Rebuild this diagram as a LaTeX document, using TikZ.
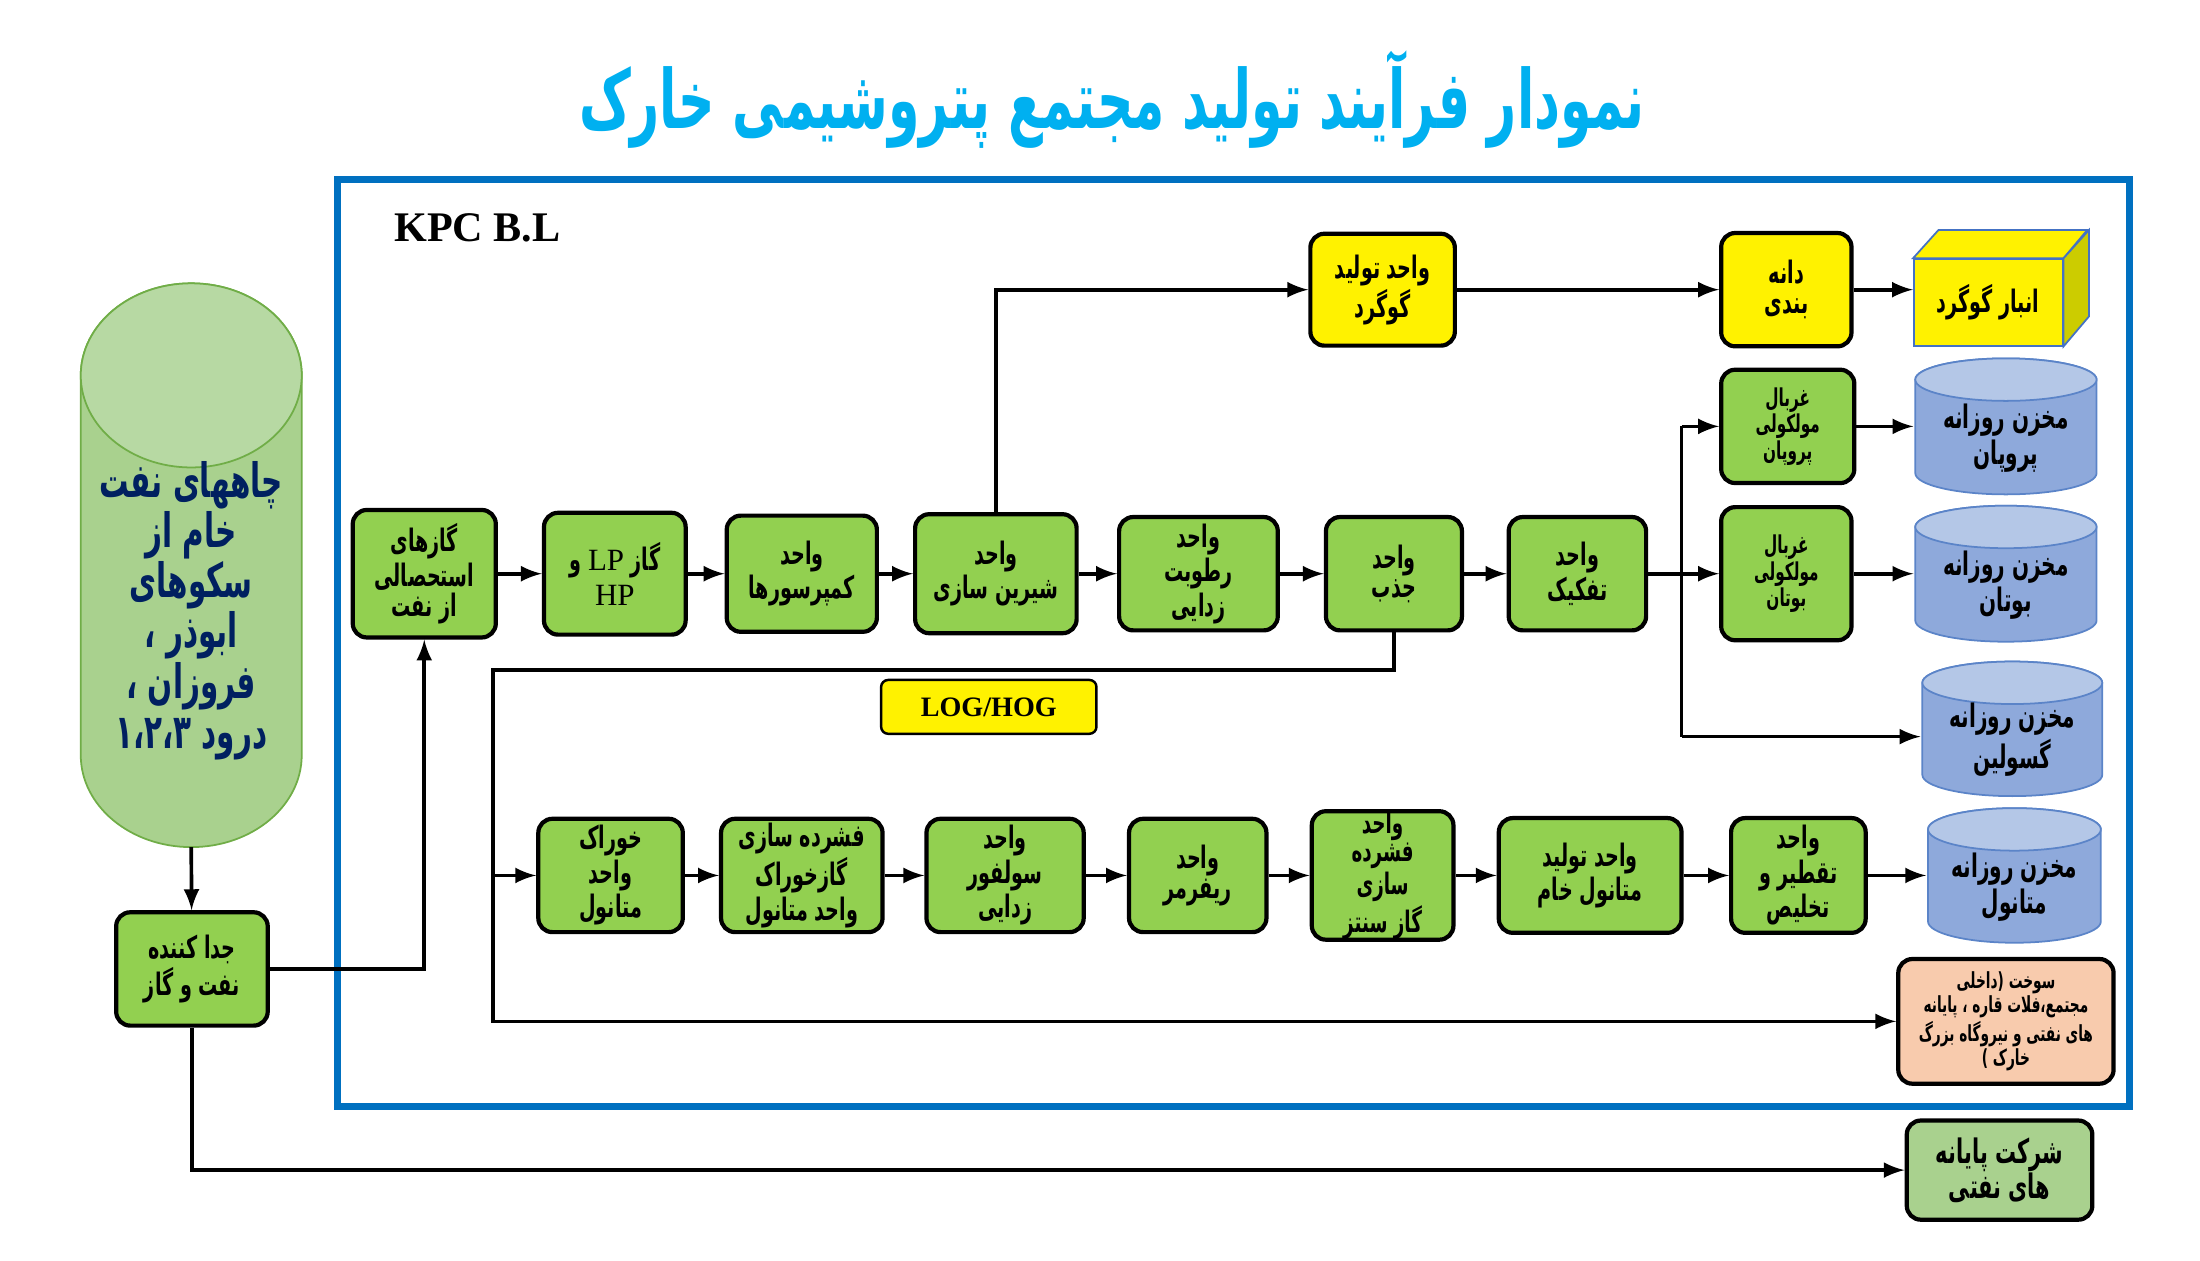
\documentclass[tikz,border=0pt]{standalone}
\usepackage{fontspec}
\setmainfont{Liberation Serif}
\newfontfamily\latinfont{Liberation Serif}
\newfontfamily\arabicfont[Script=Arabic,FakeStretch=0.62]{DejaVu Sans}
\TeXXeTstate=1
\usetikzlibrary{arrows}

\newcommand{\px}{0.4031pt}
\newcommand{\fa}[1]{\beginR#1\endR}
\newcommand{\boxfont}{\arabicfont\bfseries\fontsize{8.8}{8.4}\selectfont}

\definecolor{boxgreen}{HTML}{92D050}
\definecolor{palegreen}{HTML}{A9D18E}
\definecolor{welltop}{HTML}{B7D9A3}
\definecolor{welledge}{HTML}{70AD47}
\definecolor{wellink}{HTML}{002060}
\definecolor{tankbody}{HTML}{8EA9DB}
\definecolor{tanktop}{HTML}{B4C7E7}
\definecolor{tankedge}{HTML}{5B84C8}
\definecolor{peach}{HTML}{F8CBAD}
\definecolor{frameblue}{HTML}{0070C0}
\definecolor{titleblue}{HTML}{00B0F0}
\definecolor{cubeside}{HTML}{CCCC00}
\definecolor{cubeedge}{HTML}{4472C4}

\begin{document}
\begin{tikzpicture}[x=\px, y=-\px, line width=1.05pt, >=latex,
  sz/.style 2 args={minimum width=#1*\px, minimum height=#2*\px},
  box/.style={draw, line width=1.2pt, rounded corners=4pt, fill=boxgreen, inner sep=0pt, align=center, font=\boxfont},
  ybox/.style={box, fill=yellow},
  sieve/.style={box, font=\arabicfont\bfseries\fontsize{7}{7.5}\selectfont},
  tank/.style={inner sep=0pt, align=center, font=\arabicfont\bfseries\fontsize{9.2}{9}\selectfont}]

\useasboundingbox (0,0) rectangle (1553,890);

% title and plant limit
\node[font=\arabicfont\bfseries\fontsize{23.2}{26}\selectfont, text=titleblue] (title) at (785,70)
  {\fa{نمودار فرآیند تولید مجتمع پتروشیمی خارک}};
\draw[frameblue, line width=2pt] (238,127) rectangle (1503,781);
\node[font=\bfseries\fontsize{12}{14}\selectfont] (kpc) at (337,161) {KPC B.L};

% oil wells
\draw[welledge, line width=0.5pt, fill=palegreen] (57,265) -- (57,533)
  arc[start angle=180, end angle=0, x radius=78, y radius=65] -- (213,265)
  arc[start angle=0, end angle=-180, x radius=78, y radius=65] -- cycle;
\draw[welledge, line width=0.5pt, fill=welltop] (135,265) ellipse[x radius=78, y radius=65];
\node[text=wellink, align=center, font=\arabicfont\bfseries\fontsize{13.5}{14.3}\selectfont] (well) at (135,431)
  {\fa{چاههای نفت}\\\fa{خام از}\\\fa{سکوهای}\\\fa{ابوذر ،}\\\fa{فروزان ،}\\\fa{درود ۱،۲،۳}};
\coordinate (wellbot) at (135,598);

% daily tanks
\foreach \cx/\cy/\w/\h in {1416/301/128/96, 1416/405/128/96, 1420.5/514.5/127/95, 1422/618/122/95}
{
  \draw[tankedge, line width=0.5pt, fill=tankbody] (\cx-\w/2,\cy-\h/2+15) -- (\cx-\w/2,\cy+\h/2-15)
    arc[start angle=180, end angle=0, x radius=\w/2, y radius=15] -- (\cx+\w/2,\cy-\h/2+15)
    arc[start angle=0, end angle=-180, x radius=\w/2, y radius=15] -- cycle;
  \draw[tankedge, line width=0.5pt, fill=tanktop] (\cx,\cy-\h/2+15) ellipse[x radius=\w/2, y radius=15];
}
\node[tank, sz={128}{96}] (tankP) at (1416,309) {\fa{مخزن روزانه}\\\fa{پروپان}};
\node[tank, sz={128}{96}] (tankB) at (1416,413) {\fa{مخزن روزانه}\\\fa{بوتان}};
\node[tank, sz={127}{95}] (tankG) at (1420.5,522) {\fa{مخزن روزانه}\\\fa{گسولین}};
\node[tank, sz={122}{95}] (tankM) at (1422,626) {\fa{مخزن روزانه}\\\fa{متانول}};

% separator and export
\node[box, sz={107}{80}] (sep) at (135.5,684) {\fa{جدا کننده}\\\fa{نفت و گاز}};
\node[box, fill=palegreen, sz={131}{70}, font=\arabicfont\bfseries\fontsize{9.6}{9.8}\selectfont] (term)
  at (1411.5,826) {\fa{شرکت پایانه}\\\fa{های نفتی}};

% gas train
\node[box, sz={101}{90}] (gas) at (299.5,405) {\fa{گازهای}\\\fa{استحصالی}\\\fa{از نفت}};
\node[box, sz={100}{86}, font=\arabicfont\bfseries\fontsize{8.8}{10}\selectfont] (lphp) at (434,405)
  {\fa{گاز {\latinfont\mdseries LP} و}\\{\latinfont\mdseries HP}};
\node[box, sz={106}{82}] (comp) at (566,405) {\fa{واحد}\\\fa{کمپرسورها}};
\node[box, sz={114}{84}] (sweet) at (703,405) {\fa{واحد}\\\fa{شیرین سازی}};
\node[box, sz={112}{80}] (dehyd) at (846,405) {\fa{واحد}\\\fa{رطوبت}\\\fa{زدایی}};
\node[box, sz={96}{80}] (absorb) at (984,405) {\fa{واحد}\\\fa{جذب}};
\node[box, sz={97}{80}] (fract) at (1113.5,405) {\fa{واحد}\\\fa{تفکیک}};

% sulphur
\node[ybox, sz={102}{79}] (sulf) at (976,204.5) {\fa{واحد تولید}\\\fa{گوگرد}};
\node[ybox, sz={92}{80}] (grain) at (1261,204.5) {\fa{دانه}\\\fa{بندی}};
\node[draw=cubeedge, line width=0.5pt, fill=yellow, sz={105}{61}, inner sep=0pt, font=\boxfont] (store)
  at (1403.5,213.5) {\fa{انبار گوگرد}};
\draw[cubeedge, line width=0.5pt, fill=yellow] (store.north west) -- ++(18,-20) -- ++(105,0)
  -- (store.north east) -- cycle;
\draw[cubeedge, line width=0.5pt, fill=cubeside] (store.north east) -- ++(18,-20) -- ++(0,61)
  -- (store.south east) -- cycle;

% sieves
\node[sieve, sz={94}{80}] (sieveP) at (1262,301) {\fa{غربال}\\\fa{مولکولی}\\\fa{پروپان}};
\node[sieve, sz={92}{94}] (sieveB) at (1261,405) {\fa{غربال}\\\fa{مولکولی}\\\fa{بوتان}};

% methanol train
\node[box, sz={102}{80}] (feed) at (431,618) {\fa{خوراک}\\\fa{واحد}\\\fa{متانول}};
\node[box, sz={114}{80}] (feedcomp) at (566,618) {\fa{فشرده سازی}\\\fa{گازخوراک}\\\fa{واحد متانول}};
\node[box, sz={111}{80}] (desulf) at (709.5,618) {\fa{واحد}\\\fa{سولفور}\\\fa{زدایی}};
\node[box, sz={97}{80}] (reform) at (845.5,618) {\fa{واحد}\\\fa{ریفرمر}};
\node[box, sz={100}{80}, font=\arabicfont\bfseries\fontsize{8.4}{8}\selectfont] (syncomp) at (976,618)
  {\fa{واحد}\\\fa{فشرده}\\\fa{سازی}\\\fa{گاز سنتز}};
\node[box, sz={129}{81}] (crude) at (1122.5,618) {\fa{واحد تولید}\\\fa{متانول خام}};
\node[box, sz={95}{81}] (distil) at (1269.5,618) {\fa{واحد}\\\fa{تقطیر و}\\\fa{تخلیص}};

% fuel and lean gas
\node[box, fill=peach, sz={152}{88}, font=\arabicfont\bfseries\fontsize{6.3}{6.8}\selectfont] (fuel)
  at (1416,721) {\fa{سوخت  (داخلی}\\\fa{مجتمع،فلات قاره ، پایانه}\\\fa{های نفتی و نیروگاه بزرگ}\\\fa{خارک )}};
\node[draw, rounded corners=2pt, fill=yellow, line width=0.7pt, sz={152}{38}, inner sep=0pt,
  font=\bfseries\fontsize{8}{9}\selectfont] (loghog) at (698,499) {LOG/HOG};

% connectors
\foreach \a/\b in {gas/lphp, lphp/comp, comp/sweet, sweet/dehyd, dehyd/absorb, absorb/fract,
  feed/feedcomp, feedcomp/desulf, desulf/reform, reform/syncomp, syncomp/crude, crude/distil,
  sulf/grain}
  \draw[->] (\a) -- (\b);
\foreach \a/\b in {distil/tankM, sieveP/tankP, sieveB/tankB, grain/store}
  \draw[->] (\a.east) -- (\a.east -| \b.west);

\draw[->] (wellbot) -- (sep);
\draw[->] (sep.east) -| (gas.south);
\draw[->] (sep.south) |- (term.west);
\draw[->] (sweet.north) |- (sulf.west);

\coordinate (split) at (1187,405);
\coordinate (splitT) at (1187,301);
\coordinate (splitB) at (1187,520);
\draw (fract) -- (split);
\draw (splitT) -- (splitB);
\draw[->] (split) -- (sieveB);
\draw[->] (splitT) -- (sieveP);
\draw[->] (splitB) -- (splitB -| tankG.west);

\coordinate (ret) at (348,473);
\draw[->] (absorb.south) |- (ret) -- (ret |- fuel.west) -- (fuel.west);
\draw[->] (ret |- feed.west) -- (feed.west);

\end{tikzpicture}
\end{document}
